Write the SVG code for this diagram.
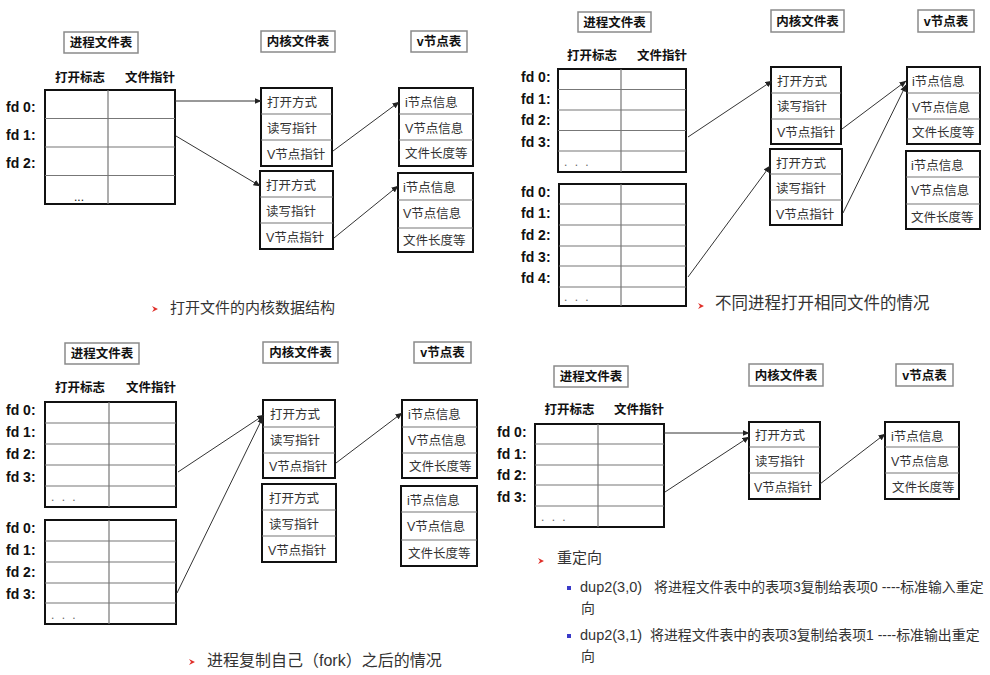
<svg xmlns="http://www.w3.org/2000/svg" width="990" height="675" viewBox="0 0 990 675">
<style>
text{font-family:"Liberation Sans","Noto Sans CJK SC",sans-serif}
.hb{fill:#fff;stroke:#8a8a8a;stroke-width:1.5}
.ht{font-size:12.5px;font-weight:bold;fill:#111;text-anchor:middle}
.ch{font-size:12.5px;font-weight:bold;fill:#111;text-anchor:middle}
.tb{fill:#fff;stroke:#111;stroke-width:2}
.tl{fill:none;stroke:#777;stroke-width:1.2}
.fd{font-size:14px;font-weight:bold;fill:#111}
.dt{font-size:12px;fill:#666;letter-spacing:2px}
.bx{fill:#fff;stroke:#111;stroke-width:2}
.bt{font-size:12.5px;fill:#333}
.cn{fill:none;stroke:#333;stroke-width:1;marker-end:url(#ah)}
.cap{fill:#333}
.du{fill:#333;font-size:13.9px}
.rb{fill:#e0302a}
.sq{fill:#3a3ac8}
</style>
<defs>
<marker id="ah" markerWidth="7" markerHeight="6" refX="6.5" refY="3" orient="auto" markerUnits="userSpaceOnUse">
<path d="M0,0 L7,3 L0,6 Z" fill="#222"/>
</marker>
</defs>

<!-- ================= Quadrant 1 ================= -->
<g id="q1-hdr-proc"><rect class="hb" x="64" y="32" width="74" height="21"/><text class="ht" x="101" y="47">进程文件表</text></g>
<g id="q1-hdr-kern"><rect class="hb" x="261" y="31" width="74" height="21"/><text class="ht" x="298" y="46">内核文件表</text></g>
<g id="q1-hdr-vnode"><rect class="hb" x="411" y="31" width="56" height="21"/><text class="ht" x="439" y="46">v节点表</text></g>
<g id="q1-proc-table">
<text class="ch" x="80" y="82">打开标志</text><text class="ch" x="150" y="82">文件指针</text>
<rect class="tb" x="45" y="90" width="130" height="114"/>
<path class="tl" d="M108 90V204M45 118.5H175M45 147H175M45 175.5H175"/>
<text class="fd" x="6" y="112">fd 0:</text><text class="fd" x="6" y="140">fd 1:</text><text class="fd" x="6" y="168">fd 2:</text>
<text x="74" y="201" font-size="12" fill="#111">...</text>
</g>
<g id="q1-kern1"><rect class="bx" x="261" y="88" width="71" height="78"/><path class="tl" d="M261 114H332M261 140H332"/>
<text class="bt" x="267" y="107">打开方式</text><text class="bt" x="267" y="133">读写指针</text><text class="bt" x="267" y="159">V节点指针</text></g>
<g id="q1-kern2"><rect class="bx" x="260" y="171" width="73" height="78"/><path class="tl" d="M260 197H333M260 223H333"/>
<text class="bt" x="266" y="190">打开方式</text><text class="bt" x="266" y="216">读写指针</text><text class="bt" x="266" y="242">V节点指针</text></g>
<g id="q1-vnode1"><rect class="bx" x="399" y="88" width="74" height="78"/><path class="tl" d="M399 114H473M399 140H473"/>
<text class="bt" x="405" y="107">i节点信息</text><text class="bt" x="405" y="133">V节点信息</text><text class="bt" x="405" y="158">文件长度等</text></g>
<g id="q1-vnode2"><rect class="bx" x="398" y="173" width="75" height="79"/><path class="tl" d="M398 200H473M398 228H473"/>
<text class="bt" x="403" y="192">i节点信息</text><text class="bt" x="403" y="218">V节点信息</text><text class="bt" x="403" y="245">文件长度等</text></g>
<g id="q1-caption"><path class="rb" d="M152 306L158 309L152 312L154 309Z"/><text class="cap" x="170" y="313" font-size="15">打开文件的内核数据结构</text></g>

<!-- ================= Quadrant 2 ================= -->
<g id="q2-hdr-proc"><rect class="hb" x="578" y="12" width="73" height="20"/><text class="ht" x="614.5" y="27">进程文件表</text></g>
<g id="q2-hdr-kern"><rect class="hb" x="771" y="10" width="73" height="22"/><text class="ht" x="807.5" y="26">内核文件表</text></g>
<g id="q2-hdr-vnode"><rect class="hb" x="918" y="10" width="56" height="22"/><text class="ht" x="946" y="26">v节点表</text></g>
<g id="q2-proc-table1">
<text class="ch" x="592" y="60">打开标志</text><text class="ch" x="662" y="60">文件指针</text>
<rect class="tb" x="558" y="69" width="128" height="103"/>
<path class="tl" d="M621 69V172M558 89.5H686M558 110H686M558 130.5H686M558 151H686"/>
<text class="fd" x="521" y="82">fd 0:</text><text class="fd" x="521" y="104">fd 1:</text><text class="fd" x="521" y="125">fd 2:</text><text class="fd" x="521" y="147">fd 3:</text>
<text class="dt" x="564" y="166">. . .</text>
</g>
<g id="q2-proc-table2">
<rect class="tb" x="559" y="184" width="127" height="122"/>
<path class="tl" d="M621 184V306M559 204H686M559 225H686M559 246H686M559 266H686M559 287H686"/>
<text class="fd" x="521" y="197">fd 0:</text><text class="fd" x="521" y="218">fd 1:</text><text class="fd" x="521" y="240">fd 2:</text><text class="fd" x="521" y="262">fd 3:</text><text class="fd" x="521" y="283">fd 4:</text>
<text class="dt" x="564" y="301">. . .</text>
</g>
<g id="q2-kern1"><rect class="bx" x="771" y="67" width="70" height="77"/><path class="tl" d="M771 93H841M771 119H841"/>
<text class="bt" x="777" y="86">打开方式</text><text class="bt" x="777" y="111">读写指针</text><text class="bt" x="777" y="137">V节点指针</text></g>
<g id="q2-kern2"><rect class="bx" x="770" y="149" width="72" height="76"/><path class="tl" d="M770 174H842M770 200H842"/>
<text class="bt" x="776" y="168">打开方式</text><text class="bt" x="776" y="193">读写指针</text><text class="bt" x="776" y="219">V节点指针</text></g>
<g id="q2-vnode1"><rect class="bx" x="907" y="67" width="73" height="77"/><path class="tl" d="M907 93H980M907 119H980"/>
<text class="bt" x="912" y="86">i节点信息</text><text class="bt" x="912" y="112">V节点信息</text><text class="bt" x="912" y="137">文件长度等</text></g>
<g id="q2-vnode2"><rect class="bx" x="906" y="151" width="74" height="78"/><path class="tl" d="M906 177H980M906 204H980"/>
<text class="bt" x="911" y="170">i节点信息</text><text class="bt" x="911" y="195">V节点信息</text><text class="bt" x="911" y="222">文件长度等</text></g>
<g id="q2-caption"><path class="rb" d="M698 303L704 306L698 309L700 306Z"/><text class="cap" x="715" y="309" font-size="16.5">不同进程打开相同文件的情况</text></g>

<!-- ================= Quadrant 3 ================= -->
<g id="q3-hdr-proc"><rect class="hb" x="65" y="343" width="74" height="21"/><text class="ht" x="102" y="358">进程文件表</text></g>
<g id="q3-hdr-kern"><rect class="hb" x="263" y="342" width="75" height="21"/><text class="ht" x="300.5" y="357">内核文件表</text></g>
<g id="q3-hdr-vnode"><rect class="hb" x="414" y="342" width="57" height="21"/><text class="ht" x="442.5" y="357">v节点表</text></g>
<g id="q3-proc-table1">
<text class="ch" x="80" y="392">打开标志</text><text class="ch" x="151" y="392">文件指针</text>
<rect class="tb" x="45" y="402" width="131" height="105"/>
<path class="tl" d="M109 402V507M45 423H176M45 444H176M45 465H176M45 486H176"/>
<text class="fd" x="6" y="415">fd 0:</text><text class="fd" x="6" y="437">fd 1:</text><text class="fd" x="6" y="459">fd 2:</text><text class="fd" x="6" y="482">fd 3:</text>
<text class="dt" x="51" y="501">. . .</text>
</g>
<g id="q3-proc-table2">
<rect class="tb" x="45" y="520" width="131" height="104"/>
<path class="tl" d="M109 520V624M45 541H176M45 562H176M45 583H176M45 603H176"/>
<text class="fd" x="6" y="533">fd 0:</text><text class="fd" x="6" y="555">fd 1:</text><text class="fd" x="6" y="577">fd 2:</text><text class="fd" x="6" y="599">fd 3:</text>
<text class="dt" x="51" y="619">. . .</text>
</g>
<g id="q3-kern1"><rect class="bx" x="263" y="400" width="72" height="78"/><path class="tl" d="M263 427H335M263 453H335"/>
<text class="bt" x="270" y="419">打开方式</text><text class="bt" x="270" y="445">读写指针</text><text class="bt" x="269" y="471">V节点指针</text></g>
<g id="q3-kern2"><rect class="bx" x="262" y="484" width="74" height="78"/><path class="tl" d="M262 510H336M262 536H336"/>
<text class="bt" x="269" y="503">打开方式</text><text class="bt" x="269" y="529">读写指针</text><text class="bt" x="268" y="555">V节点指针</text></g>
<g id="q3-vnode1"><rect class="bx" x="402" y="400" width="75" height="78"/><path class="tl" d="M402 427H477M402 453H477"/>
<text class="bt" x="408" y="419">i节点信息</text><text class="bt" x="408" y="445">V节点信息</text><text class="bt" x="409" y="471">文件长度等</text></g>
<g id="q3-vnode2"><rect class="bx" x="401" y="486" width="76" height="80"/><path class="tl" d="M401 512H477M401 540H477"/>
<text class="bt" x="407" y="505">i节点信息</text><text class="bt" x="407" y="531">V节点信息</text><text class="bt" x="408" y="558">文件长度等</text></g>
<g id="q3-caption"><path class="rb" d="M189 659L195 662L189 665L191 662Z"/><text class="cap" x="207" y="666" font-size="16">进程复制自己（fork）之后的情况</text></g>

<!-- ================= Quadrant 4 ================= -->
<g id="q4-hdr-proc"><rect class="hb" x="554" y="366" width="74" height="21"/><text class="ht" x="591" y="381">进程文件表</text></g>
<g id="q4-hdr-kern"><rect class="hb" x="749" y="364" width="74" height="22"/><text class="ht" x="786" y="380">内核文件表</text></g>
<g id="q4-hdr-vnode"><rect class="hb" x="896" y="364" width="57" height="22"/><text class="ht" x="924.5" y="380">v节点表</text></g>
<g id="q4-proc-table">
<text class="ch" x="569.5" y="414">打开标志</text><text class="ch" x="639" y="414">文件指针</text>
<rect class="tb" x="535" y="424" width="129" height="103"/>
<path class="tl" d="M598 424V527M535 444H664M535 465H664M535 485H664M535 506H664"/>
<text class="fd" x="497" y="437">fd 0:</text><text class="fd" x="497" y="459">fd 1:</text><text class="fd" x="497" y="480">fd 2:</text><text class="fd" x="497" y="502">fd 3:</text>
<text class="dt" x="541" y="521">. . .</text>
</g>
<g id="q4-kern"><rect class="bx" x="749" y="422" width="71" height="77"/><path class="tl" d="M749 447H820M749 473H820"/>
<text class="bt" x="755" y="440">打开方式</text><text class="bt" x="755" y="466">读写指针</text><text class="bt" x="754" y="492">V节点指针</text></g>
<g id="q4-vnode"><rect class="bx" x="885" y="422" width="74" height="77"/><path class="tl" d="M885 447H959M885 473H959"/>
<text class="bt" x="891" y="441">i节点信息</text><text class="bt" x="891" y="466">V节点信息</text><text class="bt" x="892" y="492">文件长度等</text></g>
<g id="q4-caption">
<path class="rb" d="M538 558L544 561L538 564L540 561Z"/><text class="cap" x="557" y="563" font-size="15">重定向</text>
<rect class="sq" x="567" y="586" width="4" height="4"/>
<text class="du" y="592"><tspan x="580" font-size="14.5">dup2(3,0)</tspan><tspan x="654">将进程文件表中的表项3复制给表项0 ----标准输入重定</tspan></text>
<text class="du" x="581" y="613">向</text>
<rect class="sq" x="567" y="634" width="4" height="4"/>
<text class="du" y="640"><tspan x="580" font-size="14.5">dup2(3,1)</tspan><tspan x="650">将进程文件表中的表项3复制给表项1 ----标准输出重定</tspan></text>
<text class="du" x="581" y="661">向</text>
</g>

<!-- ================= Connectors ================= -->
<g id="connectors">
<path class="cn" d="M175 101L261 101"/>
<path class="cn" d="M176 136L260 186"/>
<path class="cn" d="M333 151L399 102"/>
<path class="cn" d="M334 238L398 186"/>
<path class="cn" d="M688 137L772 81"/>
<path class="cn" d="M688 277L770 166"/>
<path class="cn" d="M842 129L906 81"/>
<path class="cn" d="M843 213L906 85"/>
<path class="cn" d="M178 472L264 415"/>
<path class="cn" d="M177 593L263 417"/>
<path class="cn" d="M336 463L402 413"/>
<path class="cn" d="M664 433L749 433"/>
<path class="cn" d="M665 492L749 437"/>
<path class="cn" d="M820 484L885 434"/>
</g>
</svg>
